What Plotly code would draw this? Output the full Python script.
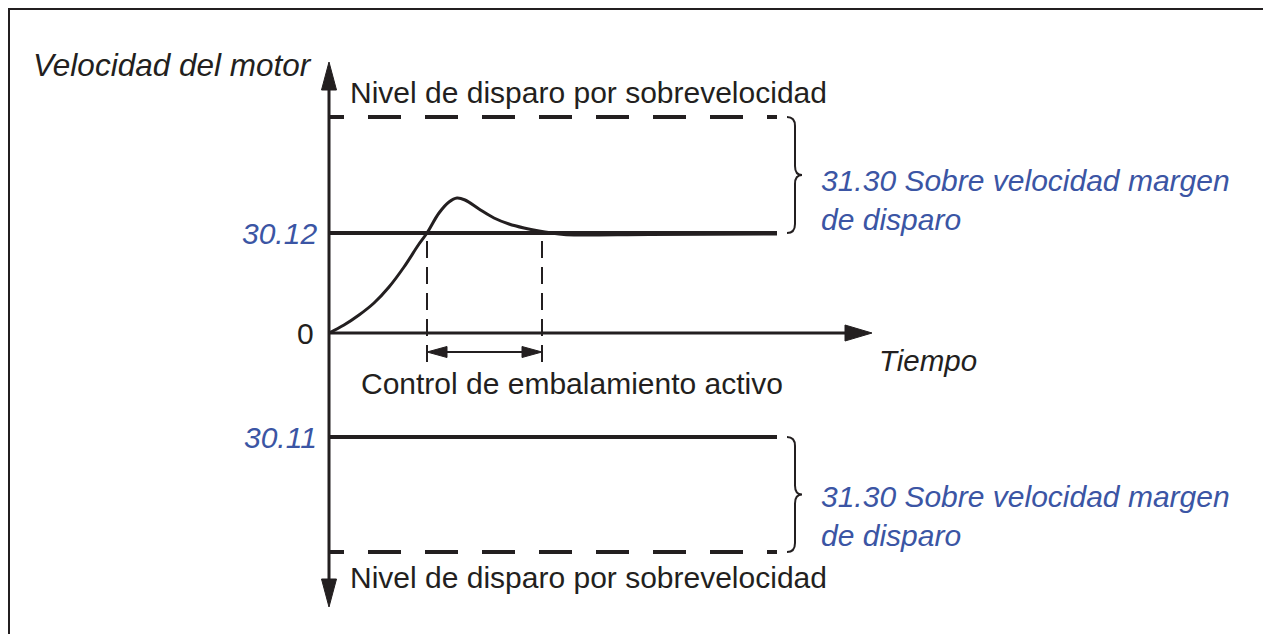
"""
Motor speed supervision diagram (overspeed trip margins).
"""

import plotly.graph_objects as go

# speed response after a step (time, speed) in diagram units
speed_t = [0, 0.15, 0.30, 0.45, 0.60, 0.75, 0.90, 0.98, 1.10, 1.20, 1.28,
           1.36, 1.50, 1.65, 1.80, 1.95, 2.10, 2.30, 2.45, 3.20, 4.48]
speed_v = [0, 0.08, 0.18, 0.30, 0.46, 0.66, 0.89, 1.00, 1.20, 1.31, 1.35,
           1.33, 1.24, 1.15, 1.09, 1.05, 1.02, 0.99, 0.98, 0.985, 0.99]

# speed levels
max_speed = 1.0        # 30.12
min_speed = -1.04      # 30.11
trip_high = 2.16
trip_low = -2.19
t_end = 4.48

# runaway control active between these times
runaway_t = [0.98, 2.13]

level_labels = ["30.12", "30.11"]
margin_label = "31.30 Sobre velocidad margen<br>de disparo"
trip_label = "Nivel de disparo por sobrevelocidad"

INK = "#231f20"
BLUE = "#3b55a4"
FONT = "Arial, Liberation Sans, sans-serif"
DASH = "15px,24px," + ",".join(["33px,24px"] * 9)

fig = go.Figure()


def line(x, y, width=3, dash="solid", color=INK):
    fig.add_trace(
        go.Scatter(
            x=x,
            y=y,
            mode="lines",
            line={"color": color, "width": width, "dash": dash},
            hoverinfo="skip",
            showlegend=False,
        )
    )


def head(tip, direction, length, half):
    # filled triangle arrowhead
    tx, ty = tip
    dx, dy = direction
    bx, by = tx - dx * length, ty - dy * length
    px, py = -dy * half, dx * half
    fig.add_trace(
        go.Scatter(
            x=[tx, bx + px, bx - px, tx],
            y=[ty, by + py, by - py, ty],
            mode="lines",
            fill="toself",
            fillcolor=INK,
            line={"color": INK, "width": 1},
            hoverinfo="skip",
            showlegend=False,
        )
    )


def brace(x, y_top, y_bot):
    mid = (y_top + y_bot) / 2
    w = 0.08
    c = 0.09
    path = (
        f"M {x},{y_top} Q {x + w},{y_top} {x + w},{y_top - c} "
        f"L {x + w},{mid + c} Q {x + w},{mid} {x + w + 0.07},{mid} "
        f"Q {x + w},{mid} {x + w},{mid - c} "
        f"L {x + w},{y_bot + c} Q {x + w},{y_bot} {x},{y_bot}"
    )
    fig.add_shape(
        type="path",
        path=path,
        xref="x",
        yref="y",
        line={"color": INK, "width": 2},
    )


# axes of the diagram
line([0, 0], [trip_low - 0.3, trip_high + 0.3], width=3)
head((0, 2.71), (0, 1), 0.28, 0.075)
head((0, -2.74), (0, -1), 0.28, 0.075)
line([0, 5.2], [0, 0], width=3)
head((5.43, 0), (1, 0), 0.27, 0.08)

# trip levels
line([0, t_end], [trip_high, trip_high], width=4, dash=DASH)
line([0, t_end], [trip_low, trip_low], width=4, dash=DASH)

# speed limits
line([0, t_end], [max_speed, max_speed], width=4)
line([0, t_end], [min_speed, min_speed], width=4)

# speed curve
fig.add_trace(
    go.Scatter(
        x=speed_t,
        y=speed_v,
        mode="lines",
        line={"color": INK, "width": 3, "shape": "spline", "smoothing": 1},
        hoverinfo="skip",
        showlegend=False,
    )
)

# runaway control window
for t in runaway_t:
    line([t, t], [max_speed - 0.08, -0.29], width=2, dash="17px,9px")
line([runaway_t[0] + 0.15, runaway_t[1] - 0.15], [-0.19, -0.19], width=2)
head((runaway_t[0], -0.19), (-1, 0), 0.20, 0.055)
head((runaway_t[1], -0.19), (1, 0), 0.20, 0.055)

brace(4.58, trip_high, max_speed)
brace(4.58, min_speed, trip_low)

# frame
fig.add_shape(
    type="rect",
    xref="x",
    yref="y",
    x0=-3.20,
    x1=9.7,
    y0=3.24,
    y1=-3.3,
    line={"color": INK, "width": 2},
)

texts = [
    ("<i>Velocidad del motor</i>", -2.98, 2.68, "left", INK, 31.5),
    (trip_label, 0.19, 2.41, "left", INK, 30),
    (trip_label, 0.19, -2.44, "left", INK, 30),
    ("<i>" + level_labels[0] + "</i>", -0.10, max_speed, "right", BLUE, 30),
    ("0", -0.13, 0, "right", INK, 30),
    ("<i>Tiempo</i>", 5.48, -0.27, "left", INK, 29.5),
    ("Control de embalamiento activo", 0.30, -0.50, "left", INK, 30),
    ("<i>" + level_labels[1] + "</i>", -0.10, min_speed, "right", BLUE, 30),
    ("<i>" + margin_label + "</i>", 4.90, 1.33, "left", BLUE, 30),
    ("<i>" + margin_label + "</i>", 4.90, -1.83, "left", BLUE, 30),
]
for text, x, y, anchor, color, size in texts:
    fig.add_annotation(
        text=text,
        x=x,
        y=y,
        xref="x",
        yref="y",
        xanchor=anchor,
        yanchor="middle",
        align="left",
        showarrow=False,
        font={"family": FONT, "size": size, "color": color},
    )

# the page adds an 8px body margin, so the ranges are shifted to compensate
fig.update_layout(
    width=1271,
    height=634,
    margin={"l": 0, "r": 0, "t": 0, "b": 0},
    paper_bgcolor="white",
    plot_bgcolor="white",
    xaxis={"range": [-3.21, 9.50], "visible": False, "fixedrange": True},
    yaxis={"range": [-3.09, 3.25], "visible": False, "fixedrange": True},
)

fig.write_html("out.html")
